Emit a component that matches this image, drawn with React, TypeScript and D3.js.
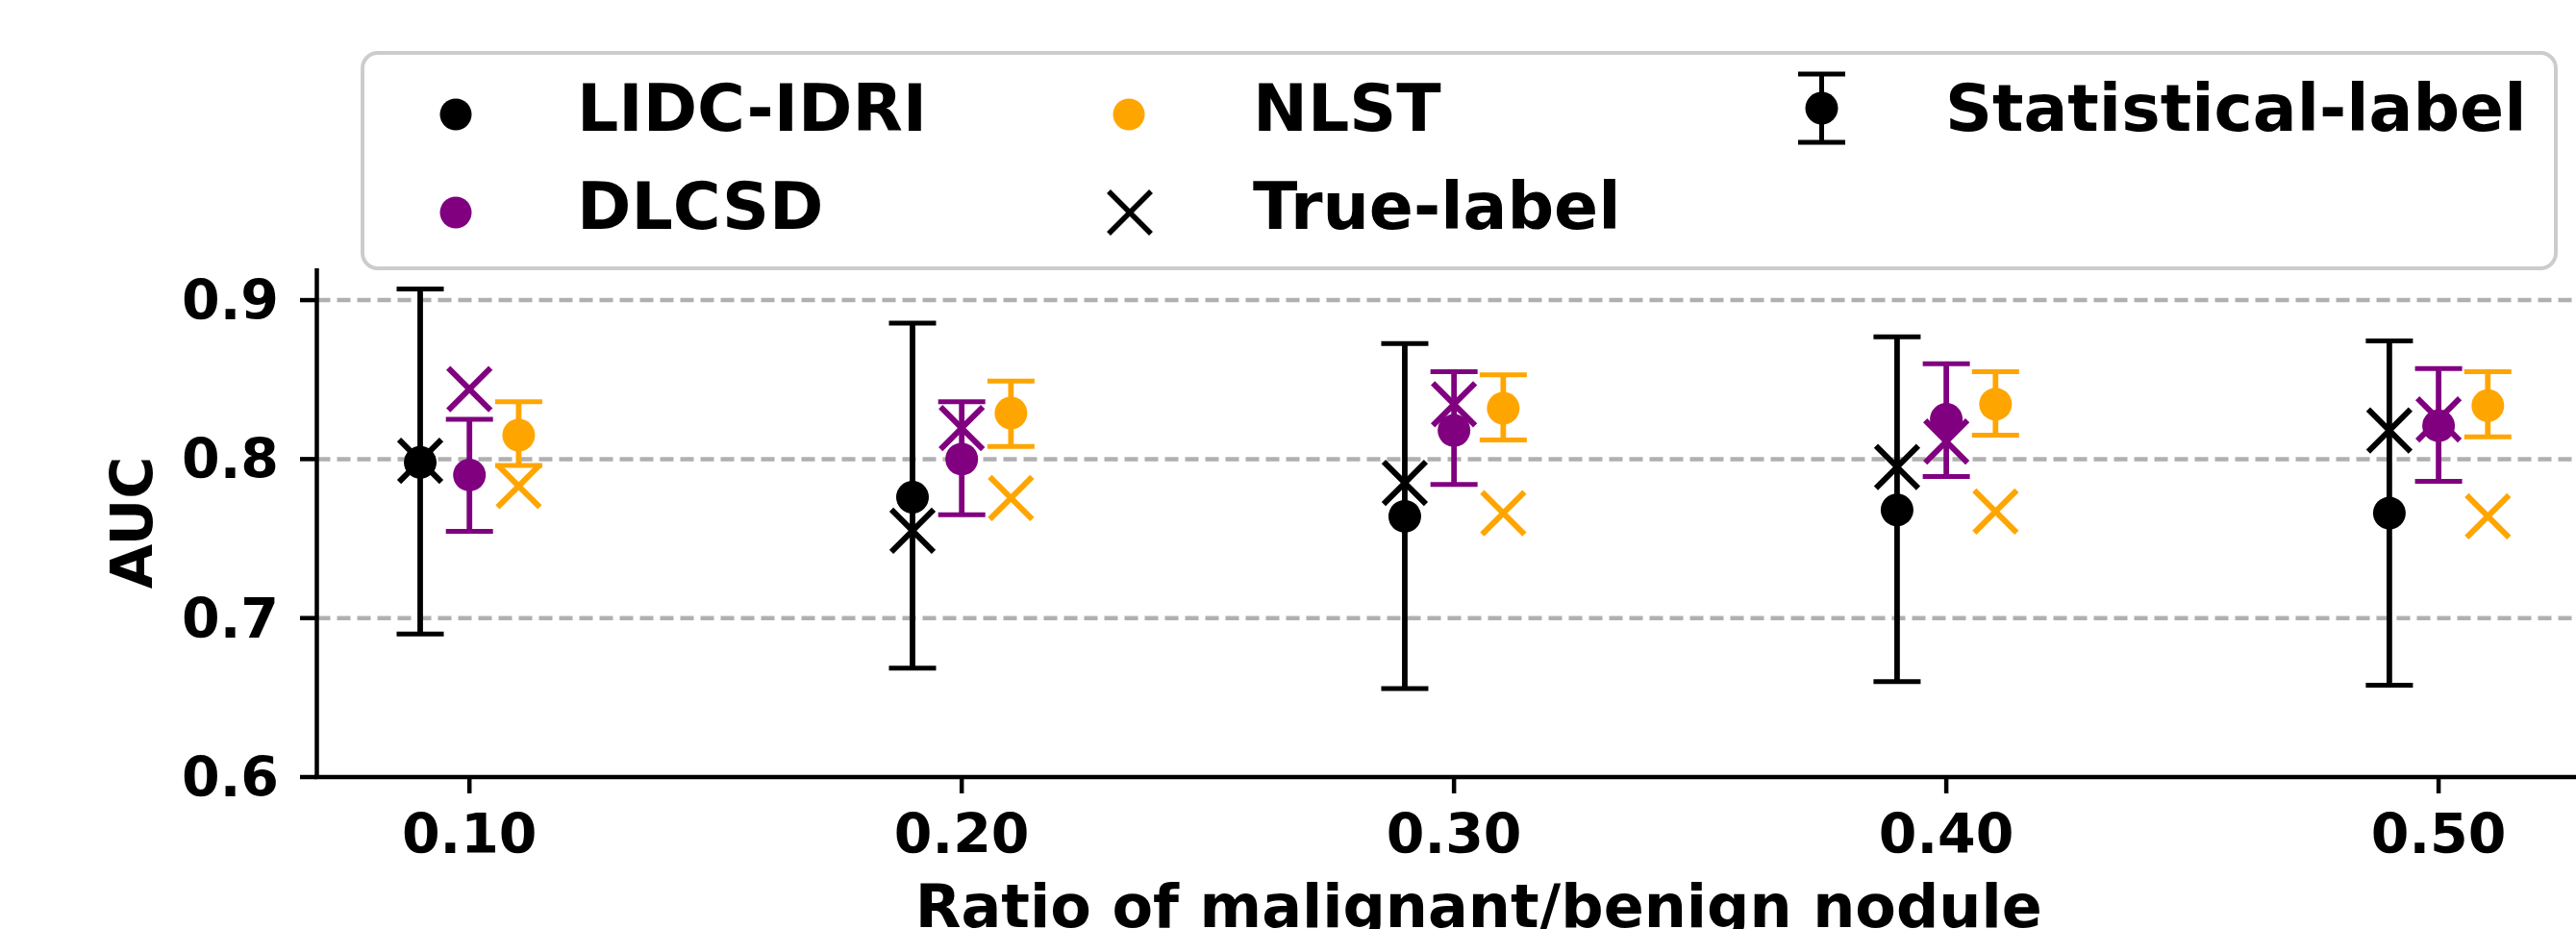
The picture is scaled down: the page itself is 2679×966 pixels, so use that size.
import * as d3 from "d3";

const ratios = [0.1, 0.2, 0.3, 0.4, 0.5];
const xTickLabels = ["0.10", "0.20", "0.30", "0.40", "0.50"];
const yTicks = [0.6, 0.7, 0.8, 0.9];

const lidcMean = [0.798, 0.776, 0.764, 0.768, 0.766];
const lidcLo = [0.69, 0.6685, 0.6556, 0.66, 0.6577];
const lidcHi = [0.907, 0.8855, 0.8727, 0.8769, 0.8744];
const lidcTrue = [0.799, 0.755, 0.785, 0.795, 0.818];

const dlcsdMean = [0.79, 0.8, 0.818, 0.825, 0.821];
const dlcsdLo = [0.7545, 0.765, 0.784, 0.789, 0.786];
const dlcsdHi = [0.825, 0.836, 0.855, 0.86, 0.857];
const dlcsdTrue = [0.844, 0.8195, 0.8345, 0.811, 0.825];

const nlstMean = [0.815, 0.829, 0.832, 0.8345, 0.8336];
const nlstLo = [0.796, 0.808, 0.812, 0.815, 0.814];
const nlstHi = [0.836, 0.849, 0.853, 0.855, 0.855];
const nlstTrue = [0.783, 0.7755, 0.766, 0.767, 0.764];

const series = [
	{ name: "LIDC-IDRI", color: "#000000", offset: -0.01, mean: lidcMean, lo: lidcLo, hi: lidcHi, truth: lidcTrue },
	{ name: "DLCSD", color: "#800080", offset: 0, mean: dlcsdMean, lo: dlcsdLo, hi: dlcsdHi, truth: dlcsdTrue },
	{ name: "NLST", color: "#FFA500", offset: 0.01, mean: nlstMean, lo: nlstLo, hi: nlstHi, truth: nlstTrue },
];

const W = 2679, H = 966;
const font = "'DejaVu Sans', sans-serif";

function XMark({ cx, cy, s = 22, color, w = 6 }) {
	return (
		<g stroke={color} strokeWidth={w}>
			<line x1={cx - s} y1={cy - s} x2={cx + s} y2={cy + s} />
			<line x1={cx - s} y1={cy + s} x2={cx + s} y2={cy - s} />
		</g>
	);
}

export default function App() {
	const x = d3.scaleLinear([0.069, 0.541], [329.5, 2746]);
	const y = d3.scaleLinear([0.6, 0.92], [808, 279]);
	const cap = 24.5;

	return (
		<svg width={W} height={H} style={{ position: "absolute", left: 0, top: 0, background: "#fff" }} fontFamily={font} fontWeight="bold">
			{/* grid */}
			{yTicks.slice(1).map((t) => (
				<line key={t} x1={x.range()[0]} x2={W} y1={y(t)} y2={y(t)} stroke="#b0b0b0" strokeWidth={4.5} strokeDasharray="14,7" />
			))}

			{/* data */}
			{series.map((s) => (
				<g key={s.name}>
					{ratios.map((r, i) => {
						const cx = x(r + s.offset);
						return (
							<g key={r}>
								<g stroke={s.color}>
									<line x1={cx} x2={cx} y1={y(s.lo[i])} y2={y(s.hi[i])} strokeWidth={5.8} />
									<line x1={cx - cap} x2={cx + cap} y1={y(s.lo[i])} y2={y(s.lo[i])} strokeWidth={5} />
									<line x1={cx - cap} x2={cx + cap} y1={y(s.hi[i])} y2={y(s.hi[i])} strokeWidth={5} />
								</g>
								<circle cx={cx} cy={y(s.mean[i])} r={17} fill={s.color} />
								<XMark cx={cx} cy={y(s.truth[i])} color={s.color} />
							</g>
						);
					})}
				</g>
			))}

			{/* axes */}
			<line x1={329.5} x2={329.5} y1={279} y2={810} stroke="#000" strokeWidth={4.5} />
			<line x1={327} x2={W} y1={808} y2={808} stroke="#000" strokeWidth={4.5} />
			{yTicks.map((t) => (
				<g key={t}>
					<line x1={312} x2={329.5} y1={y(t)} y2={y(t)} stroke="#000" strokeWidth={4.5} />
					<text x={290} y={y(t)} textAnchor="end" dominantBaseline="central" fontSize={57}>{t.toFixed(1)}</text>
				</g>
			))}
			{ratios.map((r, i) => (
				<g key={r}>
					<line x1={x(r)} x2={x(r)} y1={808} y2={825} stroke="#000" strokeWidth={4.5} />
					<text x={x(r)} y={887} textAnchor="middle" fontSize={57}>{xTickLabels[i]}</text>
				</g>
			))}
			<text transform={`translate(158,${(279 + 808) / 2}) rotate(-90)`} textAnchor="middle" fontSize={60}>AUC</text>
			<text x={(x.range()[0] + x.range()[1]) / 2} y={964} textAnchor="middle" fontSize={62}>Ratio of malignant/benign nodule</text>

			{/* legend */}
			<rect x={377} y={55} width={2281} height={224} rx={16} fill="#fff" stroke="#cccccc" strokeWidth={4} />
			<g fontSize={68}>
				<circle cx={474} cy={119} r={16.5} fill={series[0].color} />
				<text x={600} y={136}>{series[0].name}</text>
				<circle cx={474} cy={221} r={16.5} fill={series[1].color} />
				<text x={600} y={238}>{series[1].name}</text>
				<circle cx={1174} cy={119} r={16.5} fill={series[2].color} />
				<text x={1303} y={136}>{series[2].name}</text>
				<XMark cx={1175} cy={221} color="#000" w={5.5} />
				<text x={1303} y={238}>True-label</text>
				<g stroke="#000" strokeWidth={5}>
					<line x1={1894.5} x2={1894.5} y1={77} y2={148} />
					<line x1={1870} x2={1919} y1={77} y2={77} />
					<line x1={1870} x2={1919} y1={148} y2={148} />
				</g>
				<circle cx={1894.5} cy={112.5} r={17} fill="#000" />
				<text x={2023} y={136}>Statistical-label</text>
			</g>
		</svg>
	);
}
